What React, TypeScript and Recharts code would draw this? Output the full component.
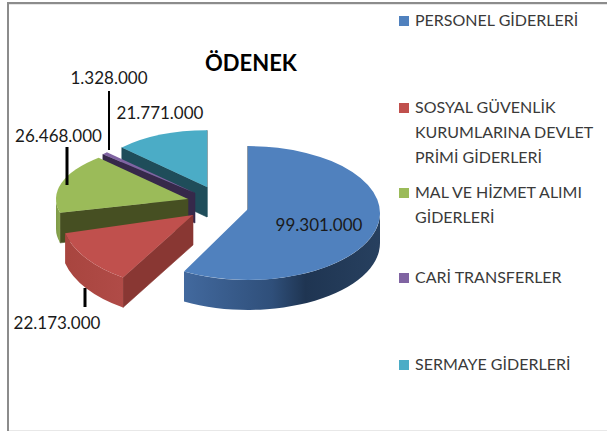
import React from "react";
import { PieChart, Pie, Legend } from "recharts";

const categories = [
  "PERSONEL GİDERLERİ",
  "SOSYAL GÜVENLİK KURUMLARINA DEVLET PRİMİ GİDERLERİ",
  "MAL VE HİZMET ALIMI GİDERLERİ",
  "CARİ TRANSFERLER",
  "SERMAYE GİDERLERİ",
];
const values = [99301000, 22173000, 26468000, 1328000, 21771000];
const title = "ÖDENEK";

const topColors = ["#5081be", "#c0504d", "#9bbb59", "#8064a2", "#4bacc6"];
const faceColors = ["#1f3552", "#893733", "#464f22", "#36294a", "#1f4d5a"];
const legendLines = [
  ["PERSONEL GİDERLERİ"],
  ["SOSYAL GÜVENLİK", "KURUMLARINA DEVLET", "PRİMİ GİDERLERİ"],
  ["MAL VE HİZMET ALIMI", "GİDERLERİ"],
  ["CARİ TRANSFERLER"],
  ["SERMAYE GİDERLERİ"],
];
// presentation only: slice explode offsets, 3D perspective corrections, label anchors, leader lines
const PIE_CX = 220;
const PIE_CY = 205;
const RX = 132;
const SQUASH = 0.477;
const DEPTH = 30;
const explode = [[28, 4], [-27, 10], [-32, -6], [-25, -12], [-13, -18]];
const radiusScale = [1, 1, 1, 0.93, 0.9];
const depthScale = [1.063, 1.17, 0.89, 1, 1];
const ellipseShift = [4, 0, 0, 0, 0];
const angleNudge = [[0, 0], [0, -3], [-6, 0], [0, 0], [0, 0]];
const labelPos = [[319, 224], [57, 322], [58.5, 135], [109, 77], [160, 112]];
const leaders = [null, [85, 288, 85, 307, 3], [67, 147, 67, 185, 3], [109, 91, 109, 150, 2], null];
const legendTops = [7, 94, 179, 264, 351];

const fmt = (v: number) => String(v).replace(/\B(?=(\d{3})+$)/g, ".");

// drawn back to front, so the table runs in reverse order counter-clockwise from 12 o'clock
const table = categories
  .map((name, i) => ({ name, value: values[i], fill: topColors[i] }))
  .reverse();
const orig = (index: number) => categories.length - 1 - index;

const Slice = (props: any) => {
  const { cx, cy, index, outerRadius } = props;
  const i = orig(index);
  const startAngle = props.startAngle + angleNudge[i][0];
  const endAngle = props.endAngle + angleNudge[i][1];
  const ax = cx + explode[i][0];
  const ay = cy + explode[i][1];
  const ey0 = ay + ellipseShift[i];
  const rx = outerRadius * radiusScale[i];
  const ry = rx * SQUASH * depthScale[i];
  const pt = (deg: number) => {
    const t = (deg * Math.PI) / 180;
    return [ax + rx * Math.cos(t), ey0 - ry * Math.sin(t)];
  };
  const [sx, sy] = pt(startAngle);
  const [ex, ey] = pt(endAngle);
  const large = endAngle - startAngle > 180 ? 1 : 0;
  const top = `M${ax},${ay} L${sx},${sy} A${rx},${ry} 0 ${large} 0 ${ex},${ey} Z`;
  const [mx, my] = pt((startAngle + endAngle) / 2);

  const faces: React.ReactNode[] = [];
  [[sx, sy], [ex, ey]].forEach(([px, py], k) => {
    const dx = px - ax;
    const dy = py - ay;
    let nx = -dy;
    let ny = dx;
    if (nx * (mx - ax) + ny * (my - ay) > 0) {
      nx = -nx;
      ny = -ny;
    }
    if (ny > -0.001) {
      faces.push(
        <path
          key={k}
          d={`M${ax},${ay} L${px},${py} L${px},${py + DEPTH} L${ax},${ay + DEPTH} Z`}
          fill={faceColors[i]}
          stroke={faceColors[i]}
          strokeWidth={0.6}
        />
      );
    }
  });

  // outer wall: only the front half (angles 180..360) faces the viewer
  let wall = null;
  const a0 = Math.max(startAngle, 180);
  const a1 = Math.min(endAngle, 360);
  if (a1 > a0) {
    const [wx0, wy0] = pt(a0);
    const [wx1, wy1] = pt(a1);
    const big = a1 - a0 > 180 ? 1 : 0;
    wall = (
      <path
        d={`M${wx0},${wy0} A${rx},${ry} 0 ${big} 0 ${wx1},${wy1} L${wx1},${wy1 + DEPTH} A${rx},${ry} 0 ${big} 1 ${wx0},${wy0 + DEPTH} Z`}
        fill={`url(#wall${i})`}
      />
    );
  }
  return (
    <g>
      {faces}
      {wall}
      <path d={top} fill={topColors[i]} />
    </g>
  );
};

const SliceLabel = (props: any) => {
  const i = orig(props.index);
  const [x, y] = labelPos[i];
  const l = leaders[i];
  return (
    <g>
      {l && <line x1={l[0]} y1={l[1]} x2={l[2]} y2={l[3]} stroke="#000" strokeWidth={l[4]} />}
      <text x={x} y={y} textAnchor="middle" dominantBaseline="central" fontFamily="Lato" fontSize={17} fill="#1a1a1a">
        {fmt(values[i])}
      </text>
    </g>
  );
};

const LegendBox = () => (
  <div style={{ position: "relative", width: 207, height: 431, fontFamily: "Lato", fontSize: 16, color: "#3a3a3a" }}>
    {categories.map((c, i) => (
      <div key={c} style={{ position: "absolute", left: 0, top: legendTops[i], width: 207 }}>
        <div style={{ position: "absolute", left: 0, top: 9, width: 10, height: 10, background: topColors[i] }} />
        {legendLines[i].map((line, k) => (
          <div key={k} style={{ position: "absolute", left: 16, top: k * 25, height: 25, lineHeight: "25px", whiteSpace: "nowrap" }}>
            {line}
          </div>
        ))}
      </div>
    ))}
  </div>
);

export default function App() {
  return (
    <div style={{ position: "absolute", left: 0, top: 0, width: 607, height: 431, background: "#fff", overflow: "hidden" }}>
      <div style={{ position: "absolute", left: 7, top: 2, width: 600, height: 2, background: "#8c8c8c" }} />
      <div style={{ position: "absolute", left: 9, top: 4, width: 598, height: 1, background: "#e6e6e6" }} />
      <div style={{ position: "absolute", left: 7, top: 2, width: 2, height: 429, background: "#8c8c8c" }} />
      <div style={{ position: "absolute", left: 9, top: 430, width: 598, height: 1, background: "#e8e8e8" }} />
      <PieChart width={607} height={431} margin={{ top: 0, right: 0, bottom: 0, left: 0 }}>
        <defs>
          <linearGradient id="wall0" x1="0" y1="0" x2="1" y2="0">
            <stop offset="0" stopColor="#42699e" />
            <stop offset="0.45" stopColor="#2f4f7a" />
            <stop offset="0.62" stopColor="#1f3552" />
            <stop offset="1" stopColor="#27405f" />
          </linearGradient>
          <linearGradient id="wall1" x1="0" y1="0" x2="1" y2="0">
            <stop offset="0" stopColor="#a8453f" />
            <stop offset="1" stopColor="#b04b47" />
          </linearGradient>
          <linearGradient id="wall2" x1="0" y1="0" x2="1" y2="0">
            <stop offset="0" stopColor="#7f9a48" />
            <stop offset="1" stopColor="#8aa650" />
          </linearGradient>
          <linearGradient id="wall3" x1="0" y1="0" x2="1" y2="0">
            <stop offset="0" stopColor="#36294a" />
            <stop offset="1" stopColor="#36294a" />
          </linearGradient>
          <linearGradient id="wall4" x1="0" y1="0" x2="1" y2="0">
            <stop offset="0" stopColor="#1f4d5a" />
            <stop offset="1" stopColor="#1f4d5a" />
          </linearGradient>
        </defs>
        <text x={251} y={62} textAnchor="middle" dominantBaseline="central" fontFamily="Lato" fontWeight={700} fontSize={22} fill="#000">
          {title}
        </text>
        <Pie
          data={table}
          dataKey="value"
          nameKey="name"
          cx={PIE_CX}
          cy={PIE_CY}
          innerRadius={0}
          outerRadius={RX}
          startAngle={90}
          endAngle={450}
          stroke="none"
          isAnimationActive={false}
          shape={Slice}
          label={SliceLabel}
          labelLine={false}
        />
        <Legend
          content={LegendBox}
          layout="vertical"
          wrapperStyle={{ position: "absolute", left: 399, top: 0, width: 207, height: 431 }}
        />
      </PieChart>
    </div>
  );
}
